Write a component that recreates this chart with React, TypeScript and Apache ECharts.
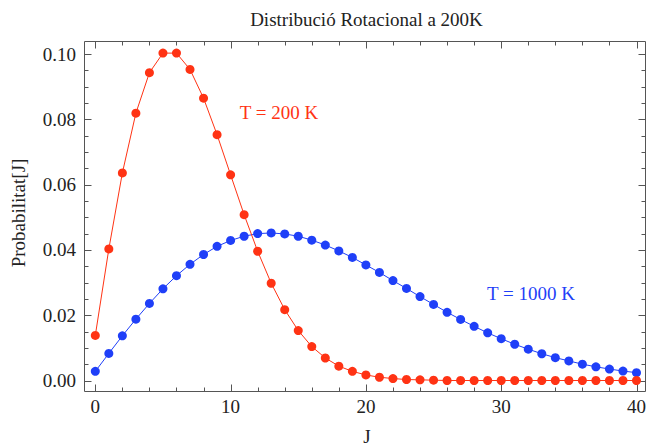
import React, { useEffect, useRef } from "react";
import * as echarts from "echarts";

const J = [0, 1, 2, 3, 4, 5, 6, 7, 8, 9, 10, 11, 12, 13, 14, 15, 16, 17, 18, 19, 20,
  21, 22, 23, 24, 25, 26, 27, 28, 29, 30, 31, 32, 33, 34, 35, 36, 37, 38, 39, 40];

const P200 = [0.0138, 0.0403, 0.0636, 0.0819, 0.0943, 0.1003, 0.1003, 0.0953, 0.0865, 0.0753,
  0.0630, 0.0508, 0.0396, 0.0298, 0.0217, 0.0153, 0.0104, 0.0069, 0.0044, 0.0028,
  0.0017, 0.0010, 0.0006, 0.0003, 0.0002, 0.0001, 0.0, 0.0, 0.0, 0.0,
  0.0, 0.0, 0.0, 0.0, 0.0, 0.0, 0.0, 0.0, 0.0, 0.0, 0.0];

const P1000 = [0.0028, 0.0083, 0.0137, 0.0188, 0.0236, 0.0281, 0.0321, 0.0356, 0.0386, 0.0411,
  0.0429, 0.0442, 0.0450, 0.0452, 0.0449, 0.0442, 0.0430, 0.0415, 0.0397, 0.0377,
  0.0354, 0.0331, 0.0306, 0.0282, 0.0257, 0.0233, 0.0209, 0.0187, 0.0166, 0.0146,
  0.0128, 0.0111, 0.0096, 0.0082, 0.0070, 0.0060, 0.0050, 0.0042, 0.0035, 0.0029, 0.0024];

const X_MIN = 0;
const X_MAX = 40;
const Y_MIN = 0;
const Y_MAX = 0.1;
const X_MAJOR = [0, 10, 20, 30, 40];
const X_MINOR = [2, 4, 6, 8, 12, 14, 16, 18, 22, 24, 26, 28, 32, 34, 36, 38];
const Y_MAJOR = [0, 0.02, 0.04, 0.06, 0.08, 0.1];
const Y_MINOR = [0.005, 0.01, 0.015, 0.025, 0.03, 0.035, 0.045, 0.05, 0.055,
  0.065, 0.07, 0.075, 0.085, 0.09, 0.095];

const TITLE = "Distribució Rotacional a 200K";
const X_NAME = "J";
const Y_NAME = "Probabilitat[J]";
const LABEL_200 = "T = 200 K";
const LABEL_1000 = "T = 1000 K";

const RED = "#ff3314";
const BLUE = "#1f3ff8";
const FONT = "Liberation Serif";
const FRAME = "#555555";
const FS = 19;

// data range inside the frame, and the frame's distance from it
const GRID = { left: 95.3, right: 9.7, top: 54.1, bottom: 65.5 };
const OFF_BOTTOM = 10.5;
const OFF_TOP = 13.1;
const OFF_LEFT = 11.3;
const OFF_RIGHT = 9.2;
const MAJOR_LEN = 7;
const MINOR_LEN = 4;

export default function App() {
  const ref = useRef<HTMLDivElement>(null);

  useEffect(() => {
    if (!ref.current) return;
    const chart = echarts.init(ref.current, null, { renderer: "svg" });

    const base = {
      type: "value" as const,
      axisLine: { show: false },
      axisTick: { show: false },
      splitLine: { show: false },
      minorTick: { show: false },
      minorSplitLine: { show: false },
    };

    const texts: any[] = [
      {
        type: "text",
        x: 366.5,
        y: 19.5,
        style: { text: TITLE, fill: "#222", fontFamily: FONT, fontSize: FS, textAlign: "center", textVerticalAlign: "middle" },
      },
      {
        type: "text",
        x: 18.5,
        y: 213,
        rotation: Math.PI / 2,
        style: { text: Y_NAME, fill: "#222", fontFamily: FONT, fontSize: FS, textAlign: "center", textVerticalAlign: "middle" },
      },
      {
        type: "text",
        x: 367,
        y: 436.5,
        style: { text: X_NAME, fill: "#222", fontFamily: FONT, fontSize: FS, textAlign: "center", textVerticalAlign: "middle" },
      },
      {
        type: "text",
        x: 279,
        y: 112.5,
        style: { text: LABEL_200, fill: RED, fontFamily: FONT, fontSize: FS, textAlign: "center", textVerticalAlign: "middle" },
      },
      {
        type: "text",
        x: 531,
        y: 293.5,
        style: { text: LABEL_1000, fill: BLUE, fontFamily: FONT, fontSize: FS, textAlign: "center", textVerticalAlign: "middle" },
      },
    ];

    chart.setOption({
      animation: false,
      backgroundColor: "#ffffff",
      grid: { ...GRID, containLabel: false },
      xAxis: {
        ...base,
        min: X_MIN,
        max: X_MAX,
        interval: 10,
        position: "bottom",
        offset: OFF_BOTTOM,
        axisLabel: { show: true, margin: 6, fontFamily: FONT, fontSize: FS, color: "#222" },
      },
      yAxis: {
        ...base,
        min: Y_MIN,
        max: Y_MAX,
        interval: 0.02,
        position: "left",
        offset: OFF_LEFT,
        axisLabel: {
          show: true,
          margin: 8,
          fontFamily: FONT,
          fontSize: FS,
          color: "#222",
          formatter: (v: number) => v.toFixed(2),
        },
      },
      graphic: texts,
      series: [
        {
          name: "T = 1000 K",
          type: "line",
          data: J.map((j, i) => [j, P1000[i]]),
          symbol: "circle",
          symbolSize: 9,
          showAllSymbol: true,
          clip: false,
          itemStyle: { color: BLUE },
          lineStyle: { color: BLUE, width: 1 },
          z: 3,
        },
        {
          name: "T = 200 K",
          type: "line",
          data: J.map((j, i) => [j, P200[i]]),
          symbol: "circle",
          symbolSize: 9,
          showAllSymbol: true,
          clip: false,
          itemStyle: { color: RED },
          lineStyle: { color: RED, width: 1 },
          z: 4,
        },
      ],
    });

    // Frame and tick marks, placed through the chart's own scales.
    try {
      const toPx = (x: number, y: number) =>
        chart.convertToPixel({ gridIndex: 0 } as any, [x, y]) as unknown as number[];
      const p0 = toPx(X_MIN, Y_MIN);
      const p1 = toPx(X_MAX, Y_MAX);
      if (p0 && p1) {
        const bottom = Math.round(p0[1] + OFF_BOTTOM) + 0.5;
        const top = Math.round(p1[1] - OFF_TOP) + 0.5;
        const left = Math.round(p0[0] - OFF_LEFT) + 0.5;
        const right = Math.round(p1[0] + OFF_RIGHT) - 0.5;
        const st = { stroke: FRAME, lineWidth: 1 };
        const line = (x1: number, y1: number, x2: number, y2: number) => ({
          type: "line",
          silent: true,
          z: 2,
          shape: { x1, y1, x2, y2 },
          style: st,
        });
        const extra: any[] = [
          {
            type: "rect",
            silent: true,
            z: 2,
            shape: { x: left, y: top, width: right - left, height: bottom - top },
            style: { fill: "none", stroke: FRAME, lineWidth: 1 },
          },
        ];
        const xTicks = (vals: number[], len: number) => {
          vals.forEach((v) => {
            const px = Math.round(toPx(v, Y_MIN)[0]) + 0.5;
            extra.push(line(px, bottom, px, bottom - len));
            extra.push(line(px, top, px, top + len));
          });
        };
        const yTicks = (vals: number[], len: number) => {
          vals.forEach((v) => {
            const py = Math.round(toPx(X_MIN, v)[1]) + 0.5;
            extra.push(line(left, py, left + len, py));
            extra.push(line(right, py, right - len, py));
          });
        };
        xTicks(X_MAJOR, MAJOR_LEN);
        xTicks(X_MINOR, MINOR_LEN);
        yTicks(Y_MAJOR, MAJOR_LEN);
        yTicks(Y_MINOR, MINOR_LEN);
        chart.setOption({ graphic: [...texts, ...extra] });
      }
    } catch (e) {
      // keep the chart even if tick placement fails
    }

    return () => chart.dispose();
  }, []);

  return (
    <div
      ref={ref}
      style={{ position: "fixed", left: 0, top: 0, width: 649, height: 446, background: "#fff" }}
    />
  );
}
